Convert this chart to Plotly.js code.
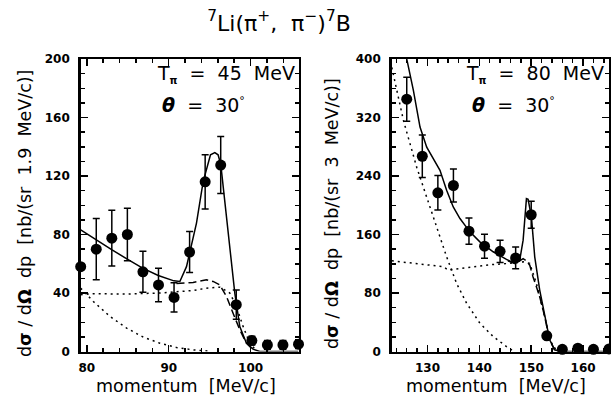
<!DOCTYPE html>
<html><head><meta charset="utf-8">
<script src="https://cdn.plot.ly/plotly-3.0.1.min.js"></script>
<style>html,body{margin:0;padding:0;background:#fff}#chart{width:611px;height:403px}</style>
</head><body><div id="chart"></div>
<script>
// ---------- Left panel: T_pi = 45 MeV ----------
const leftX = [79.25, 81.15, 83.05, 84.95, 86.85, 88.75, 90.65, 92.55, 94.45, 96.35, 98.25, 100.15, 102.05, 103.95, 105.85];
const leftY = [58, 70, 77.5, 80, 54.5, 45.5, 37, 68, 116, 127.5, 32, 7.5, 4.5, 4.5, 5];
const leftErr = [0, 21, 19, 18, 14, 11.5, 10, 14, 18.5, 19.5, 10, 3, 3, 3, 3];

const leftSolidX = [79.25, 81.12, 83.03, 84.94, 86.81, 88.72, 90.63, 91.36, 92.17, 92.58, 93.39, 94.2, 94.61, 95.1, 95.63, 96.03, 96.36, 96.85, 97.46, 98.07, 98.68, 99.49, 100.3, 101.12, 105.85];
const leftSolidY = [83.2, 76.4, 69.6, 63.2, 57, 52, 48.3, 47.9, 58, 68, 87.8, 116, 125, 134.5, 136, 134.5, 127.7, 103.8, 69.6, 39.9, 17.1, 5.7, 1.6, 0, 0];
const leftDashX = [90.95, 92.98, 94.61, 95.42, 96.24, 97.05, 97.86, 98.68, 99.49, 100.3];
const leftDashY = [46.5, 47.2, 49, 47.9, 45.6, 37.6, 26.2, 14.8, 5.7, 1.1];
const leftDot1X = [79.25, 80.79, 84.86, 88.92, 92.98, 94.61, 96.24, 97.46, 98.27, 99.09, 99.9, 100.71];
const leftDot1Y = [38.8, 39.5, 39.3, 40, 41.7, 43.3, 44, 40, 30.8, 17, 5.7, 0.5];
const leftDot2X = [79.25, 80.79, 82.82, 84.86, 86.89, 88.92, 90.95, 92.98, 95.02];
const leftDot2Y = [43.3, 34.2, 24, 16, 9.8, 5.7, 2.7, 1.1, 0.2];

// ---------- Right panel: T_pi = 80 MeV ----------
const rightX = [126, 129, 132, 135, 138, 141, 144, 147, 150, 153, 156, 159, 162, 165];
const rightY = [345, 267, 217, 227, 164.5, 144, 137, 128, 187, 21.5, 3, 4.5, 3, 3.5];
const rightErr = [30, 29, 23.6, 22.7, 18, 16.5, 15.2, 15, 18.6, 4.6, 2.5, 2.5, 2.5, 2.5];

const rightSolidX = [125.5, 126.0, 127.28, 128.56, 129.85, 131.13, 132.41, 133.69, 134.97, 136.26, 138.18, 140.1, 142.67, 145.23, 146.83, 147.79, 148.44, 149.08, 149.4, 150.04, 150.68, 151.64, 152.6, 153.56, 154.53, 155.49, 165];
const rightSolidY = [440, 400, 357, 307, 279.5, 263.6, 247.7, 220.5, 197.7, 181.8, 163.6, 150, 136.4, 125.9, 120.5, 125, 152.3, 209, 208, 184, 129.5, 84, 47.7, 15.9, 2.3, 0, 0];
const rightDashX = [145.5, 146.83, 147.79, 148.44, 149.08, 149.72, 150.36, 151.64, 152.6, 153.56, 154.5];
const rightDashY = [124, 120.5, 124, 127, 124, 118, 102, 75, 47.7, 15.9, 2];
const rightDot1X = [123.12, 126.64, 129.85, 133.05, 134.01, 136.26, 139.46, 142.67, 145.87, 148.44, 149.72, 151.0, 152.6, 153.56, 154.85];
const rightDot1Y = [124, 121.4, 118.2, 116, 111.4, 113.6, 116.8, 119, 120.5, 122.7, 120.5, 93, 47.7, 15.9, 1.5];
const rightDot2X = [123.12, 124.08, 124.72, 125.36, 126.64, 127.92, 129.85, 131.77, 133.69, 135.62, 137.54, 140.1, 142.67, 145.23, 146.51];
const rightDot2Y = [388.6, 356.8, 334, 316, 284, 252, 211, 170, 129.5, 93, 66, 38.6, 20.5, 6.8, 1];

const FONT = 'DejaVu Sans';
const BLACK = '#000';

function lineTrace(x, y, dash, xa, ya) {
  return {x, y, xaxis: xa, yaxis: ya, type: 'scatter', mode: 'lines',
    line: {color: BLACK, width: 1.5, dash: dash}, hoverinfo: 'skip', showlegend: false};
}
function pointTrace(x, y, err, xa, ya) {
  return {x, y, xaxis: xa, yaxis: ya, type: 'scatter', mode: 'markers',
    marker: {color: BLACK, size: 11},
    error_y: {type: 'data', array: err, visible: true, color: BLACK, thickness: 1.5, width: 3.5},
    cliponaxis: false, showlegend: false};
}

const traces = [
  lineTrace(leftDot2X, leftDot2Y, '2px,4px', 'x', 'y'),
  lineTrace(leftDot1X, leftDot1Y, '2px,4px', 'x', 'y'),
  lineTrace(leftDashX, leftDashY, '8px,4px', 'x', 'y'),
  lineTrace(leftSolidX, leftSolidY, 'solid', 'x', 'y'),
  pointTrace(leftX, leftY, leftErr, 'x', 'y'),
  lineTrace(rightDot2X, rightDot2Y, '2px,4px', 'x2', 'y2'),
  lineTrace(rightDot1X, rightDot1Y, '2px,4px', 'x2', 'y2'),
  lineTrace(rightDashX, rightDashY, '8px,4px', 'x2', 'y2'),
  lineTrace(rightSolidX, rightSolidY, 'solid', 'x2', 'y2'),
  pointTrace(rightX, rightY, rightErr, 'x2', 'y2')
];

function axis(domain, range, dtick, minorDtick, anchor, standoff) {
  return {
    domain, range, dtick, tick0: 0, anchor,
    ticks: 'inside', ticklen: 7, tickwidth: 1.5, tickcolor: BLACK,
    showline: true, linewidth: 2.5, linecolor: BLACK, mirror: 'ticks',
    showgrid: false, zeroline: false, fixedrange: true,
    ticklabelstandoff: standoff,
    tickfont: {family: FONT, size: 12, weight: 'bold', color: BLACK},
    minor: {dtick: minorDtick, tick0: 0, ticks: 'inside', ticklen: 4, tickwidth: 1.5, tickcolor: BLACK, showgrid: false}
  };
}

const W = 611, H = 403;
const px = v => v / W, py = v => 1 - v / H;
const yDom = [py(351.5), py(59)];

const ann = (text, x, y, opts) => Object.assign({
  text, x: px(x), y: py(y), xref: 'paper', yref: 'paper', showarrow: false,
  font: {family: FONT, size: 17.5, color: BLACK}
}, opts || {});

const NB = '\u00a0';
const SUBPI = '<sub><span style="font-size:10px"><b>π</b></span></sub>';
const DEG = '<sup><span style="font-size:11px">°</span></sup>';
const layout = {
  width: W, height: H,
  margin: {l: 0, r: 0, t: 0, b: 0},
  paper_bgcolor: '#fff', plot_bgcolor: '#fff',
  showlegend: false,
  title: {
    text: '<sup>7</sup>Li(π<sup>+</sup>,' + NB + NB + 'π<sup>−</sup>)<sup>7</sup>B',
    x: px(279), xanchor: 'center', y: py(23), yanchor: 'middle',
    font: {family: FONT, size: 22, color: BLACK}
  },
  xaxis: axis([px(80.7), px(298.5)], [79.25, 105.85], 10, 2, 'y', 4),
  yaxis: axis(yDom, [0, 200], 40, 10, 'x', 6),
  xaxis2: axis([px(391.7), px(609)], [123.1, 165], 10, 2, 'y2', 4),
  yaxis2: axis(yDom, [0, 400], 80, 20, 'x2', 6),
  annotations: [
    ann('d<b>σ</b>' + NB + '/' + NB + 'd<b>Ω</b>' + NB + NB + 'dp' + NB + NB + '[nb/(sr' + NB + NB + '1.9' + NB + NB + 'MeV/c)]', 25, 214, {textangle: -90, xanchor: 'center', yanchor: 'middle'}),
    ann('d<b>σ</b>' + NB + '/' + NB + 'd<b>Ω</b>' + NB + NB + 'dp' + NB + NB + '[nb/(sr' + NB + NB + '3' + NB + NB + 'MeV/c)]', 332, 214, {textangle: -90, xanchor: 'center', yanchor: 'middle'}),
    ann('momentum' + NB + NB + '[MeV/c]', 186, 386, {xanchor: 'center', yanchor: 'middle'}),
    ann('momentum' + NB + NB + '[MeV/c]', 496, 386, {xanchor: 'center', yanchor: 'middle'}),
    ann('T' + SUBPI + NB + NB + '=' + NB + NB + '45' + NB + NB + 'MeV', 297, 74, {xanchor: 'right', yanchor: 'middle', font: {family: FONT, size: 19, color: BLACK}}),
    ann('<b><i>θ</i></b>' + NB + NB + '=' + NB + NB + '30' + DEG, 160, 104.5, {xanchor: 'left', yanchor: 'middle', font: {family: FONT, size: 19, color: BLACK}}),
    ann('T' + SUBPI + NB + NB + '=' + NB + NB + '80' + NB + NB + 'MeV', 606, 74, {xanchor: 'right', yanchor: 'middle', font: {family: FONT, size: 19, color: BLACK}}),
    ann('<b><i>θ</i></b>' + NB + NB + '=' + NB + NB + '30' + DEG, 470, 104.5, {xanchor: 'left', yanchor: 'middle', font: {family: FONT, size: 19, color: BLACK}})
  ]
};

Plotly.newPlot('chart', traces, layout, {displayModeBar: false, staticPlot: true});
</script></body></html>
